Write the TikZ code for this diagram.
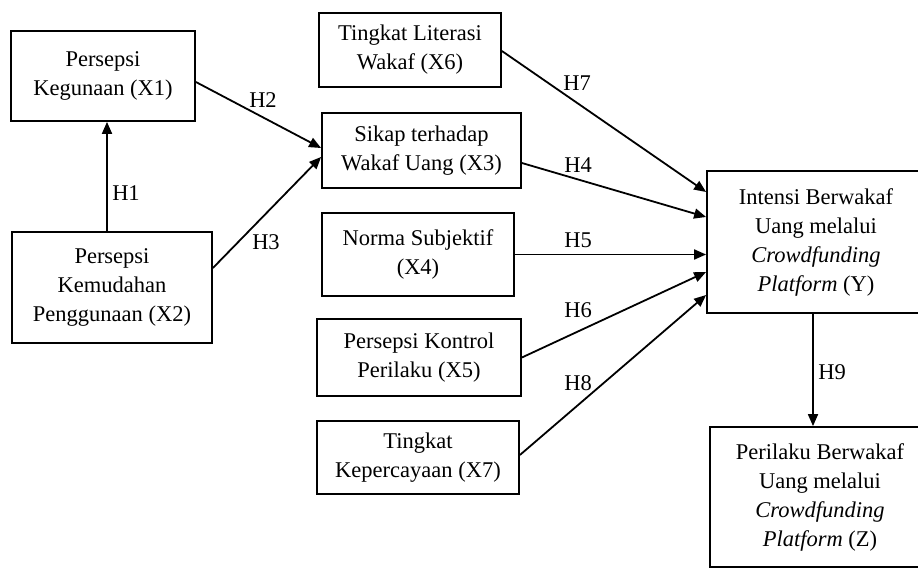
\documentclass[tikz,border=0pt]{standalone}
\usepackage{fontspec}
\setmainfont{Liberation Serif}
\usetikzlibrary{arrows.meta}
\begin{document}
\begin{tikzpicture}[x=1pt,y=-1pt,
  box/.style={draw, line width=1.8pt, rectangle, align=center, inner sep=0pt,
    font=\fontsize{22.5}{29}\selectfont},
  lab/.style={inner sep=0pt, font=\fontsize{22.5}{29}\selectfont},
  arr/.style={line width=1.8pt, -{Triangle[length=12pt,width=10pt]}}]
\useasboundingbox (0,0) rectangle (918,569);
\clip (0,0) rectangle (918,569);
\node[box, minimum width=184pt, minimum height=90pt] (X1) at (103,76) {Persepsi\\Kegunaan (X1)};
\node[box, minimum width=200pt, minimum height=111pt] (X2) at (112,287.5) {Persepsi\\Kemudahan\\Penggunaan (X2)};
\node[box, minimum width=182pt, minimum height=74pt] (X6) at (410,50) {Tingkat Literasi\\Wakaf (X6)};
\node[box, minimum width=199pt, minimum height=75pt] (X3) at (421.5,150.5) {Sikap terhadap\\Wakaf Uang (X3)};
\node[box, minimum width=192pt, minimum height=83pt] (X4) at (418,254.5) {Norma Subjektif\\(X4)};
\node[box, minimum width=204pt, minimum height=77pt] (X5) at (419,357.5) {Persepsi Kontrol\\Perilaku (X5)};
\node[box, minimum width=202pt, minimum height=73pt] (X7) at (418,457.5) {Tingkat\\Kepercayaan (X7)};
\node[box, minimum width=218pt, minimum height=142pt] (Y) at (816,242) {Intensi Berwakaf\\Uang melalui\\\textit{Crowdfunding}\\\textit{Platform} (Y)};
\node[box, minimum width=220pt, minimum height=140pt] (Z) at (820,497) {Perilaku Berwakaf\\Uang melalui\\\textit{Crowdfunding}\\\textit{Platform} (Z)};

\coordinate (h1x) at (107,0);
\draw[arr] (X2.north -| h1x) -- (X1.south -| h1x);
\draw[arr] ([yshift=-6pt]X1.east) -- ([yshift=2.5pt]X3.west);
\draw[arr] ([yshift=19.5pt]X2.east) -- ([yshift=-6.5pt]X3.west);
\draw[arr] ([yshift=-1pt]X6.east) -- ([yshift=50pt]Y.west);
\draw[arr] ([yshift=-12.5pt]X3.east) -- ([yshift=25pt]Y.west);
\draw[arr] (X4.east) -- (X4.east -| Y.west);
\draw[arr] (X5.east) -- ([yshift=-30pt]Y.west);
\draw[arr] ([yshift=2.5pt]X7.east) -- ([yshift=-53pt]Y.west);
\draw[arr] ([xshift=-3pt]Y.south) -- ([xshift=-3pt]Y.south |- Z.north);

\node[lab] (L1) at (126,193) {H1};
\node[lab] (L2) at (263,100) {H2};
\node[lab] (L3) at (266,242) {H3};
\node[lab] (L7) at (577,83) {H7};
\node[lab] (L4) at (578,165) {H4};
\node[lab] (L5) at (578,240) {H5};
\node[lab] (L6) at (578,310) {H6};
\node[lab] (L8) at (578,383) {H8};
\node[lab] (L9) at (832,372) {H9};
\end{tikzpicture}
\end{document}
